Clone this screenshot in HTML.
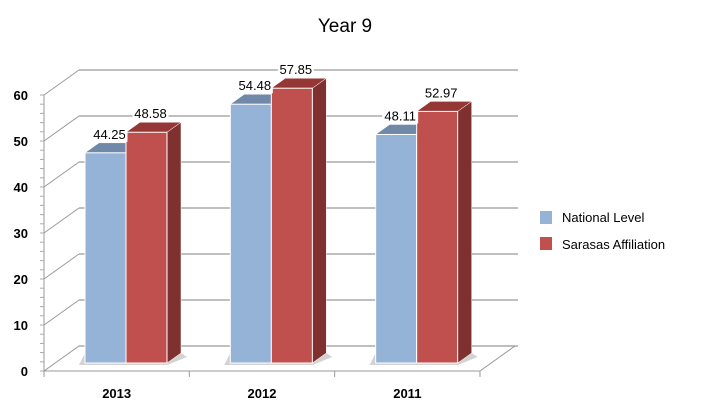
<!DOCTYPE html>
<html><head><meta charset="utf-8"><style>
body{margin:0;background:#fff;}
svg{display:block;font-family:"Liberation Sans",Arial,sans-serif;}
</style></head><body>
<svg id="chart" width="720" height="409" viewBox="0 0 720 409">
<text x="345" y="32" font-size="19" text-anchor="middle" fill="#000">Year 9</text>
<g id="grid"></g>
<g id="axis"></g>
<g id="bars"></g>
<g>
<rect x="540" y="211" width="12" height="13" fill="#95b3d7"/>
<text x="562" y="222" font-size="13">National Level</text>
<rect x="540" y="237" width="12" height="13" fill="#c0504d"/>
<text x="562" y="249" font-size="13">Sarasas Affiliation</text>
</g>
</svg>
<script>
const categories=["2013","2012","2011"];
const nationalValues=[44.25,54.48,48.11];
const sarasasValues=[48.58,57.85,52.97];
const yTicks=[0,10,20,30,40,50,60];
const NS="http://www.w3.org/2000/svg";
function mk(p,tag,attrs){const e=document.createElementNS(NS,tag);for(const k in attrs)e.setAttribute(k,attrs[k]);p.appendChild(e);return e;}
const fx0=44,fx1=480,fy0=371,dx=35,dy=-25,gs=4.6;
function yFront(v){return fy0-v*gs;}
const grid=document.getElementById('grid'),axis=document.getElementById('axis'),bars=document.getElementById('bars');
// floor
let fl=mk(grid,'polygon',{points:`${fx0},${fy0} ${fx1},${fy0} ${fx1+dx},${fy0+dy} ${fx0+dx},${fy0+dy}`,fill:'#fff',stroke:'#999','stroke-width':1});

yTicks.forEach(t=>{
  const y=yFront(t);
  if(t>0){
    const d=mk(grid,'line',{x1:fx0,y1:y,x2:fx0+dx,y2:y+dy,stroke:'#999','stroke-width':1});
    
  }
  const l=mk(grid,'line',{x1:fx0+dx,y1:y+dy,x2:fx1+dx+3,y2:y+dy,stroke:'#999','stroke-width':1.3});
  
  const tx=mk(axis,'text',{x:28,y:y+5,'font-size':13,'font-weight':'bold','text-anchor':'end'});
  
  tx.textContent=t;
});
let ax=mk(axis,'line',{x1:fx0,y1:yFront(60),x2:fx0,y2:fy0+4,stroke:'#999'});

for(let v=0;v<=60;v+=2){const t=mk(axis,'line',{x1:fx0-4,y1:yFront(v),x2:fx0,y2:yFront(v),stroke:'#aaa'});
}
const catW=(fx1-fx0)/categories.length;
for(let i=0;i<=categories.length;i++){const t=mk(axis,'line',{x1:fx0+i*catW,y1:fy0,x2:fx0+i*catW,y2:fy0+6,stroke:'#999'});
}
const by=363,bs=4.75,bw=41,ddx=14,ddy=-10;
function yBar(v){return by-v*bs;}
function bar(x,v,front,top,side,name,shadow){
  const y=yBar(v);
  const g=mk(bars,'g',{});
  
  if(side) mk(g,'polygon',{points:`${x+bw},${y} ${x+bw+ddx},${y+ddy} ${x+bw+ddx},${by+ddy} ${x+bw},${by}`,fill:side,stroke:'#fff','stroke-width':0.5});
  mk(g,'polygon',{points:`${x},${y} ${x+ddx},${y+ddy} ${x+bw+ddx},${y+ddy} ${x+bw},${y}`,fill:top,stroke:'#fff','stroke-width':0.5});
  mk(g,'rect',{x:x,y:y,width:bw,height:by-y,fill:front,stroke:'#fff','stroke-width':1});
  return y;
}
categories.forEach((c,i)=>{
  const x0=fx0+i*catW+41;
  const sh=mk(bars,'polygon',{points:`${x0-6},${by+2} ${x0+2*bw},${by+2} ${x0+2*bw+ddx+6},${by-6} ${x0+2*bw+ddx},${by-10} ${x0},${by-10}`,fill:'#c8c8c8',opacity:0.8});
  
  const yN=bar(x0,nationalValues[i],'#95b3d7','#7189a8',null,'bar-national-'+c);
  const yS=bar(x0+bw,sarasasValues[i],'#c0504d','#953735','#7f3130','bar-sarasas-'+c);
  [[x0,yN,nationalValues[i],'value-label-national'],[x0+bw,yS,sarasasValues[i],'value-label-sarasas']].forEach(a=>{
    const cx=a[0]+bw/2+4,ty=a[1]-14;
    const bg=mk(bars,'rect',{x:cx-18,y:ty-12,width:36,height:15,fill:'#fff'});
    
    const t=mk(bars,'text',{x:cx,y:ty,'font-size':13,'text-anchor':'middle'});
    
    t.textContent=a[2].toFixed(2);
  });
  const lt=mk(axis,'text',{x:fx0+i*catW+catW/2,y:398,'font-size':13,'font-weight':'bold','text-anchor':'middle'});
  
  lt.textContent=c;
});
</script>
</body></html>
